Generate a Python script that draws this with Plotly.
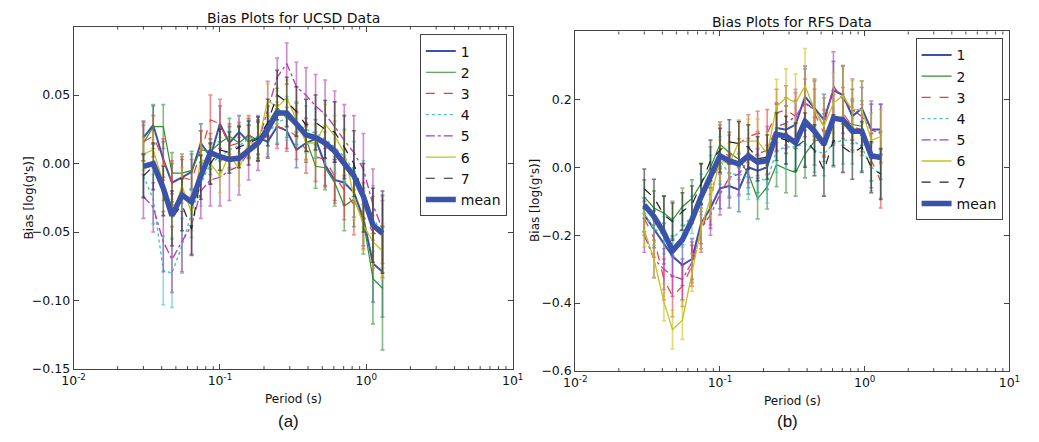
import plotly.graph_objects as go

# Spectral periods (s) shared by both data sets
periods = [0.030, 0.035, 0.041, 0.047, 0.055, 0.064, 0.074, 0.086, 0.100, 0.116,
           0.135, 0.157, 0.182, 0.212, 0.246, 0.286, 0.333, 0.387, 0.450, 0.523,
           0.608, 0.707, 0.822, 0.955, 1.110, 1.290]

series_names = ["1", "2", "3", "4", "5", "6", "7"]

# ---- UCSD data: bias per station and its standard error ----
ucsd_1 = [0.019, 0.028, 0.003, -0.014, -0.010, -0.006, 0.015, 0.005, 0.029, 0.015, 0.023, 0.016, 0.019,
          0.016, 0.027, 0.024, 0.010, 0.015, 0.018, -0.001, -0.012, -0.014, -0.021, -0.040, -0.073, -0.079]
ucsd_2 = [0.015, 0.027, 0.027, -0.007, -0.007, -0.005, 0.010, 0.009, 0.015, 0.020, 0.015, 0.021, 0.017,
          0.029, 0.041, 0.033, 0.029, 0.018, -0.002, -0.003, -0.014, -0.031, -0.026, -0.042, -0.084, -0.091]
ucsd_3 = [0.016, 0.020, 0.003, -0.014, -0.010, -0.012, 0.008, 0.032, 0.029, 0.013, 0.015, 0.020, 0.017,
          0.020, 0.027, 0.025, 0.020, 0.010, 0.005, 0.003, -0.009, -0.020, -0.030, -0.038, -0.050, -0.055]
ucsd_4 = [-0.009, -0.026, -0.078, -0.080, -0.060, -0.036, -0.015, 0.000, 0.005, 0.010, 0.013, 0.018, 0.020,
          0.022, 0.030, 0.033, 0.029, 0.025, 0.022, 0.018, 0.012, 0.005, -0.005, -0.020, -0.040, -0.050]
ucsd_5 = [-0.024, -0.032, -0.057, -0.070, -0.057, -0.045, -0.020, -0.012, -0.010, -0.005, -0.002, 0.008, 0.015,
          0.040, 0.063, 0.073, 0.056, 0.050, 0.042, 0.036, 0.027, 0.017, 0.008, -0.004, -0.030, -0.048]
ucsd_6 = [0.007, 0.010, -0.014, -0.040, -0.016, -0.036, 0.003, 0.000, -0.009, 0.007, -0.004, 0.015, 0.015,
          0.046, 0.041, 0.048, 0.032, 0.015, 0.015, 0.029, 0.020, 0.008, -0.024, -0.045, -0.057, -0.064]
ucsd_7 = [-0.009, -0.002, -0.020, -0.040, -0.030, -0.048, -0.010, 0.000, 0.010, 0.008, 0.012, 0.015, 0.018,
          0.030, 0.050, 0.045, 0.038, 0.028, 0.030, 0.025, 0.023, 0.012, 0.000, -0.025, -0.045, -0.050]
ucsd_mean = [-0.002, 0.000, -0.018, -0.038, -0.023, -0.028, -0.009, 0.008, 0.005, 0.003, 0.004, 0.010, 0.015,
             0.025, 0.037, 0.037, 0.029, 0.021, 0.019, 0.015, 0.009, 0.000, -0.009, -0.024, -0.045, -0.051]

ucsd_err_1 = [0.012, 0.014, 0.013, 0.014, 0.013, 0.013, 0.014, 0.013, 0.013, 0.012, 0.012, 0.012, 0.012,
              0.012, 0.013, 0.013, 0.013, 0.014, 0.014, 0.015, 0.015, 0.016, 0.018, 0.020, 0.028, 0.033]
ucsd_err_2 = [0.013, 0.016, 0.016, 0.015, 0.014, 0.014, 0.014, 0.013, 0.013, 0.013, 0.013, 0.012, 0.013,
              0.013, 0.014, 0.014, 0.015, 0.015, 0.016, 0.016, 0.017, 0.018, 0.020, 0.024, 0.033, 0.045]
ucsd_err_3 = [0.014, 0.015, 0.015, 0.016, 0.015, 0.015, 0.016, 0.018, 0.018, 0.016, 0.015, 0.015, 0.015,
              0.015, 0.016, 0.016, 0.017, 0.017, 0.018, 0.020, 0.020, 0.021, 0.022, 0.024, 0.026, 0.028]
ucsd_err_4 = [0.015, 0.018, 0.025, 0.025, 0.020, 0.018, 0.016, 0.015, 0.014, 0.014, 0.014, 0.014, 0.014,
              0.015, 0.015, 0.016, 0.016, 0.017, 0.018, 0.018, 0.019, 0.020, 0.021, 0.022, 0.024, 0.026]
ucsd_err_5 = [0.016, 0.018, 0.022, 0.024, 0.022, 0.021, 0.020, 0.019, 0.021, 0.022, 0.021, 0.020, 0.020,
              0.020, 0.014, 0.015, 0.018, 0.020, 0.023, 0.025, 0.026, 0.026, 0.027, 0.026, 0.026, 0.025]
ucsd_err_6 = [0.012, 0.013, 0.013, 0.014, 0.013, 0.013, 0.012, 0.012, 0.012, 0.012, 0.012, 0.012, 0.012,
              0.012, 0.012, 0.013, 0.013, 0.013, 0.014, 0.014, 0.015, 0.016, 0.017, 0.018, 0.019, 0.020]
ucsd_err_7 = [0.016, 0.017, 0.018, 0.020, 0.019, 0.019, 0.016, 0.015, 0.015, 0.015, 0.015, 0.016, 0.016,
              0.017, 0.018, 0.018, 0.018, 0.019, 0.020, 0.021, 0.022, 0.023, 0.024, 0.025, 0.027, 0.030]

# ---- RFS data: bias per station and its standard error ----
rfs_1 = [-0.140, -0.182, -0.225, -0.262, -0.288, -0.270, -0.165, -0.120, -0.062, -0.055, -0.066, 0.000, -0.010,
         0.000, 0.116, 0.111, 0.126, 0.208, 0.174, 0.140, 0.227, 0.213, 0.150, 0.174, 0.111, 0.111]
rfs_2 = [-0.087, -0.120, -0.135, -0.155, -0.116, -0.092, -0.048, 0.000, 0.068, 0.043, 0.024, -0.019, -0.092,
         -0.058, 0.008, -0.005, -0.015, 0.039, 0.077, 0.087, 0.150, 0.140, 0.126, 0.121, 0.030, 0.035]
rfs_3 = [-0.150, -0.210, -0.330, -0.380, -0.350, -0.290, -0.190, -0.110, 0.060, 0.030, 0.070, 0.090, 0.100,
         0.100, 0.160, 0.170, 0.150, 0.190, 0.160, 0.100, 0.140, 0.160, 0.120, 0.110, 0.020, -0.040]
rfs_4 = [-0.140, -0.180, -0.200, -0.210, -0.180, -0.140, -0.080, -0.030, 0.020, -0.020, -0.020, -0.030, -0.030,
         -0.040, 0.050, 0.060, 0.060, 0.070, 0.050, 0.040, 0.070, 0.080, 0.080, 0.060, 0.000, -0.020]
rfs_5 = [-0.200, -0.270, -0.300, -0.320, -0.330, -0.280, -0.180, -0.140, -0.080, -0.030, -0.020, 0.020, 0.040,
         0.050, 0.120, 0.130, 0.150, 0.190, 0.170, 0.120, 0.240, 0.200, 0.170, 0.150, 0.110, 0.100]
rfs_6 = [-0.185, -0.270, -0.397, -0.478, -0.450, -0.310, -0.180, -0.090, 0.020, 0.010, 0.075, 0.077, 0.077,
         0.040, 0.179, 0.205, 0.190, 0.240, 0.170, 0.120, 0.190, 0.210, 0.170, 0.170, 0.080, 0.090]
rfs_7 = [-0.063, -0.090, -0.140, -0.160, -0.130, -0.110, -0.050, 0.020, 0.050, 0.075, 0.070, 0.060, 0.025,
         0.030, 0.090, 0.080, 0.060, 0.080, 0.050, -0.010, 0.080, 0.060, 0.040, 0.060, 0.000, -0.020]
rfs_mean = [-0.111, -0.145, -0.193, -0.246, -0.213, -0.155, -0.087, -0.029, 0.034, 0.019, 0.010, 0.034, 0.015,
            0.019, 0.097, 0.092, 0.072, 0.135, 0.106, 0.068, 0.145, 0.140, 0.106, 0.106, 0.034, 0.029]

rfs_err_1 = [0.050, 0.055, 0.060, 0.060, 0.060, 0.060, 0.060, 0.060, 0.060, 0.065, 0.065, 0.060, 0.065,
             0.065, 0.070, 0.070, 0.070, 0.090, 0.080, 0.075, 0.085, 0.085, 0.080, 0.080, 0.075, 0.075]
rfs_err_2 = [0.050, 0.050, 0.050, 0.055, 0.055, 0.055, 0.060, 0.060, 0.065, 0.060, 0.060, 0.060, 0.060,
             0.065, 0.065, 0.070, 0.070, 0.070, 0.070, 0.070, 0.075, 0.075, 0.075, 0.075, 0.070, 0.070]
rfs_err_3 = [0.050, 0.055, 0.060, 0.060, 0.060, 0.060, 0.060, 0.060, 0.065, 0.065, 0.065, 0.065, 0.065,
             0.070, 0.070, 0.070, 0.070, 0.070, 0.070, 0.070, 0.075, 0.075, 0.075, 0.075, 0.080, 0.080]
rfs_err_4 = [0.050, 0.050, 0.055, 0.055, 0.055, 0.055, 0.060, 0.065, 0.070, 0.065, 0.065, 0.065, 0.065,
             0.065, 0.065, 0.065, 0.065, 0.065, 0.065, 0.065, 0.070, 0.070, 0.070, 0.070, 0.070, 0.070]
rfs_err_5 = [0.050, 0.055, 0.060, 0.060, 0.060, 0.060, 0.060, 0.060, 0.060, 0.060, 0.060, 0.065, 0.065,
             0.070, 0.070, 0.075, 0.080, 0.100, 0.090, 0.085, 0.100, 0.100, 0.090, 0.085, 0.085, 0.085]
rfs_err_6 = [0.050, 0.055, 0.055, 0.057, 0.057, 0.055, 0.060, 0.060, 0.060, 0.060, 0.065, 0.065, 0.065,
             0.065, 0.080, 0.085, 0.085, 0.110, 0.090, 0.085, 0.090, 0.090, 0.085, 0.085, 0.080, 0.080]
rfs_err_7 = [0.058, 0.055, 0.055, 0.055, 0.055, 0.055, 0.060, 0.060, 0.065, 0.065, 0.065, 0.065, 0.065,
             0.065, 0.070, 0.070, 0.070, 0.080, 0.075, 0.075, 0.075, 0.075, 0.075, 0.075, 0.075, 0.075]

ucsd_series = [ucsd_1, ucsd_2, ucsd_3, ucsd_4, ucsd_5, ucsd_6, ucsd_7]
ucsd_errors = [ucsd_err_1, ucsd_err_2, ucsd_err_3, ucsd_err_4, ucsd_err_5, ucsd_err_6, ucsd_err_7]
rfs_series = [rfs_1, rfs_2, rfs_3, rfs_4, rfs_5, rfs_6, rfs_7]
rfs_errors = [rfs_err_1, rfs_err_2, rfs_err_3, rfs_err_4, rfs_err_5, rfs_err_6, rfs_err_7]

# Line styles per station (matplotlib-like b, g, r--, c:, m-., y, k--)
styles = [
    dict(color="#3a52a8", rgb=(58, 82, 168), dash="solid", width=2.0),
    dict(color="#2f8f2f", rgb=(47, 143, 47), dash="solid", width=1.2),
    dict(color="#f03a3a", rgb=(240, 58, 58), dash="dash", width=1.2),
    dict(color="#45c4c4", rgb=(69, 196, 196), dash="dot", width=1.4),
    dict(color="#b03cb0", rgb=(176, 60, 176), dash="dashdot", width=1.3),
    dict(color="#c2c21e", rgb=(194, 194, 30), dash="solid", width=1.3),
    dict(color="#222222", rgb=(34, 34, 34), dash="dash", width=1.2),
]
mean_color = "#3a52a8"

W, H = 1039, 442
FONT = "DejaVu Sans"
AXC = "#444444"

fig = go.Figure()


def add_panel(series, errors, mean, xa, ya, leg):
    for name, vals, err, st in zip(series_names, series, errors, styles):
        r, g, b = st["rgb"]
        fig.add_trace(go.Scatter(
            x=periods, y=vals, mode="lines", name=name,
            line=dict(color=st["color"], width=st["width"], dash=st["dash"]),
            error_y=dict(type="data", array=err, visible=True,
                         color=f"rgba({r},{g},{b},0.6)", thickness=1.6, width=2),
            xaxis=xa, yaxis=ya, legend=leg,
        ))
    fig.add_trace(go.Scatter(
        x=periods, y=mean, mode="lines", name="mean",
        line=dict(color=mean_color, width=5.5),
        xaxis=xa, yaxis=ya, legend=leg,
    ))


add_panel(ucsd_series, ucsd_errors, ucsd_mean, "x", "y", "legend")
add_panel(rfs_series, rfs_errors, rfs_mean, "x2", "y2", "legend2")

decade_labels = {"0.01": "10<sup>-2</sup>", "0.1": "10<sup>-1</sup>",
                 "1": "10<sup>0</sup>", "10": "10<sup>1</sup>"}


def xaxis_cfg(x0, x1, anchor):
    return dict(
        type="log", domain=[x0 / W, x1 / W], range=[-2, 1], anchor=anchor,
        tickmode="linear", tick0=0, dtick=1, labelalias=decade_labels,
        ticks="inside", ticklen=5, tickcolor=AXC, mirror="ticks",
        showline=True, linecolor=AXC, linewidth=1,
        showgrid=False, zeroline=False,
        tickfont=dict(family=FONT, size=12.5, color="#111"),
    )


def yaxis_cfg(top, bottom, rng, vals, anchor):
    return dict(
        domain=[(H - bottom) / H, (H - top) / H], range=rng, anchor=anchor,
        tickmode="array", tickvals=vals,
        ticktext=[(f"{v:.2f}" if abs(rng[0]) < 0.3 else f"{v:.1f}").replace("-", "\u2212") for v in vals],
        ticks="inside", ticklen=5, tickcolor=AXC, mirror="ticks",
        showline=True, linecolor=AXC, linewidth=1,
        showgrid=False, zeroline=False,
        tickfont=dict(family=FONT, size=12.5, color="#111"),
    )


legend_common = dict(
    xanchor="right", yanchor="top", bgcolor="white", bordercolor=AXC, borderwidth=1,
    font=dict(family=FONT, size=14, color="#111"), traceorder="normal",
)

fig.update_layout(
    width=W, height=H, margin=dict(l=0, r=0, t=0, b=0),
    paper_bgcolor="white", plot_bgcolor="white",
    xaxis=xaxis_cfg(63, 512, "y"),
    yaxis=yaxis_cfg(27, 375, [-0.15, 0.10], [-0.15, -0.10, -0.05, 0.0, 0.05], "x"),
    xaxis2=xaxis_cfg(576, 1020, "y2"),
    yaxis2=yaxis_cfg(32, 377, [-0.6, 0.4], [-0.6, -0.4, -0.2, 0.0, 0.2], "x2"),
    legend=dict(x=506 / W, y=(H - 35) / H, **legend_common),
    legend2=dict(x=1013 / W, y=(H - 39) / H, **legend_common),
    showlegend=True,
)

# Minor log ticks (2..9 within each decade) on the bottom and top edges of each panel
minor_ticks = [m * 10.0 ** e for e in range(-2, 1) for m in range(2, 10)]
for xa, ya, plot_h in (("x", "y", 348), ("x2", "y2", 345)):
    frac = 3.0 / plot_h
    for v in minor_ticks:
        for y0, y1 in ((0, frac), (1 - frac, 1)):
            fig.add_shape(type="line", xref=xa, yref=f"{ya} domain", x0=v, x1=v, y0=y0, y1=y1,
                          line=dict(color=AXC, width=1), layer="above")

texts = [
    ("Bias Plots for UCSD Data", 287.5, 18, 14, 0, FONT),
    ("Bias Plots for RFS Data", 798, 22, 14, 0, FONT),
    ("Period (s)", 287.5, 405, 12, 0, FONT),
    ("Period (s)", 798, 407, 12, 0, FONT),
    ("Bias [log(g's)]", 17, 201, 12, -90, FONT),
    ("Bias [log(g's)]", 535, 204, 12, -90, FONT),
    ("(a)", 283, 428, 17, 0, "Liberation Sans"),
    ("(b)", 793, 428, 17, 0, "Liberation Sans"),
]
for txt, px, py, size, ang, fam in texts:
    fig.add_annotation(
        text=txt, x=px / W, y=(H - py) / H, xref="paper", yref="paper",
        xanchor="center", yanchor="middle", showarrow=False, textangle=ang,
        font=dict(family=fam, size=size, color="#111"),
    )

fig.write_html("out.html")
